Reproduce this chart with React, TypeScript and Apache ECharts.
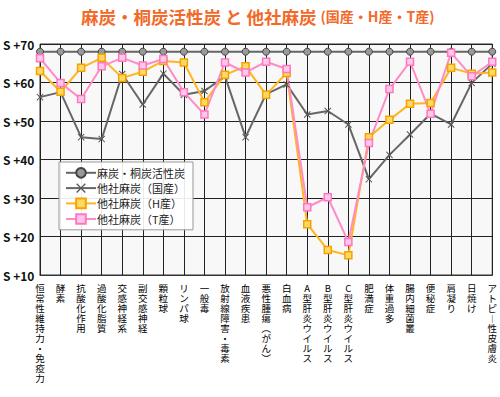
import React, { useEffect, useRef } from "react";
import * as echarts from "echarts";

const categories = [
  "恒常性維持力・免疫力", "酵素", "抗酸化作用", "過酸化脂質", "交感神経系", "副交感神経",
  "顆粒球", "リンパ球", "一般毒", "放射線障害・毒素", "血液疾患", "悪性腫瘍︵がん︶",
  "白血病", "A型肝炎ウイルス", "B型肝炎ウイルス", "C型肝炎ウイルス", "肥満症", "体重過多",
  "腸内細菌叢", "便秘症", "肩凝り", "日焼け", "アトピ︱性皮膚炎",
];

const seriesNames = ["麻炭・桐炭活性炭", "他社麻炭（国産）", "他社麻炭（H産）", "他社麻炭（T産）"];

const asaValues = [68, 68, 68, 68, 68, 68, 68, 68, 68, 68, 68, 68, 68, 68, 68, 68, 68, 68, 68, 68, 68, 68, 68];
const kokusanValues = [56.2, 57.5, 45.8, 45.3, 62.2, 54.3, 62.3, 56.8, 57.8, 61.6, 45.8, 57, 59.5, 51.7, 52.6, 49.1, 34.9, 41.2, 46.5, 51.9, 49.1, 59.9, 64.9];
const hValues = [63, 57.6, 63.8, 66.4, 61.2, 62.8, 65.6, 65.2, 54.9, 62, 64.2, 56.8, 62.5, 23.2, 16.5, 15.1, 45.8, 50.3, 54.5, 54.7, 63.8, 62.3, 62.6];
const tValues = [66.3, 59.9, 55.7, 64.2, 66.4, 64.4, 66.1, 57.5, 51.7, 65.2, 62.6, 65.4, 63.5, 27.6, 30.2, 18.6, 44.3, 58.3, 65.4, 51.9, 67.7, 61.6, 65.4];

const FONT = "'Noto Sans CJK JP', 'Noto Sans', sans-serif";
const X_SYMBOL = "path://M0,1 L1,0 L5,4 L9,0 L10,1 L6,5 L10,9 L9,10 L5,6 L1,10 L0,9 L4,5 Z";

export default function App() {
  const ref = useRef<HTMLDivElement>(null);
  useEffect(() => {
    if (!ref.current) return;
    const chart = echarts.init(ref.current, null, { renderer: "svg" });
    chart.setOption({
      animation: false,
      backgroundColor: "#ffffff",
      textStyle: { fontFamily: FONT },
      title: {
        left: 76,
        top: 2,
        text: "{a|麻炭・桐炭活性炭 と 他社麻炭} {b|(国産・H産・T産)}",
        textStyle: {
          rich: {
            a: { fontSize: 17.5, fontWeight: "bold", color: "#f26a2a", fontFamily: FONT },
            b: { fontSize: 14, fontWeight: "bold", color: "#f26a2a", fontFamily: FONT },
          },
        },
      },
      legend: {
        orient: "vertical",
        left: 59,
        top: 162,
        padding: [5, 8, 5, 6],
        itemGap: 4,
        itemWidth: 30,
        itemHeight: 12,
        backgroundColor: "rgba(255,255,255,0.9)",
        borderColor: "#999",
        borderWidth: 1,
        borderRadius: 0,
        textStyle: { fontSize: 11, color: "#222", fontFamily: FONT, padding: [0, 0, 0, -4] },
        data: seriesNames,
      },
      grid: {
        left: 39,
        right: 7,
        top: 44,
        bottom: 122,
        show: true,
        backgroundColor: "#f8f8f8",
        borderColor: "#333",
        borderWidth: 1,
      },
      xAxis: {
        type: "category",
        data: categories,
        boundaryGap: false,
        axisLine: { lineStyle: { color: "#333", width: 1 } },
        axisTick: { show: false },
        splitLine: { show: true, lineStyle: { color: "#222", width: 1 } },
        axisLabel: {
          interval: 0,
          margin: 8,
          fontSize: 9.5,
          lineHeight: 10,
          color: "#000",
          fontFamily: FONT,
          verticalAlign: "top",
          formatter: (v: string) => v.split("").join("\n"),
        },
      },
      yAxis: {
        type: "value",
        min: 10,
        max: 70,
        interval: 10,
        axisLine: { show: false },
        axisTick: { show: false },
        splitLine: { show: true, lineStyle: { color: "#222", width: 1 } },
        axisLabel: {
          align: "left",
          margin: 37,
          fontSize: 12,
          fontWeight: "bold",
          color: "#111",
          fontFamily: FONT,
          formatter: (v: number) => "S +" + v,
        },
      },
      series: [
        {
          name: seriesNames[0],
          type: "line",
          data: asaValues,
          symbol: "circle",
          symbolSize: 7,
          lineStyle: { color: "#666", width: 2 },
          itemStyle: { color: "#999", borderColor: "#444", borderWidth: 1 },
        },
        {
          name: seriesNames[1],
          type: "line",
          data: kokusanValues,
          symbol: X_SYMBOL,
          symbolSize: 7,
          lineStyle: { color: "#666", width: 2 },
          itemStyle: { color: "#555" },
        },
        {
          name: seriesNames[2],
          type: "line",
          data: hValues,
          symbol: "rect",
          symbolSize: 7,
          lineStyle: { color: "#ffb51e", width: 2 },
          itemStyle: { color: "#ffd966", borderColor: "#f5a300", borderWidth: 1.5 },
        },
        {
          name: seriesNames[3],
          type: "line",
          data: tValues,
          symbol: "rect",
          symbolSize: 7,
          lineStyle: { color: "#ff8cc6", width: 2 },
          itemStyle: { color: "#ffc8ea", borderColor: "#ff77bf", borderWidth: 1.5 },
        },
      ],
    });
    return () => chart.dispose();
  }, []);
  return <div ref={ref} style={{ width: 500, height: 397, position: "absolute", left: 0, top: 0 }} />;
}
